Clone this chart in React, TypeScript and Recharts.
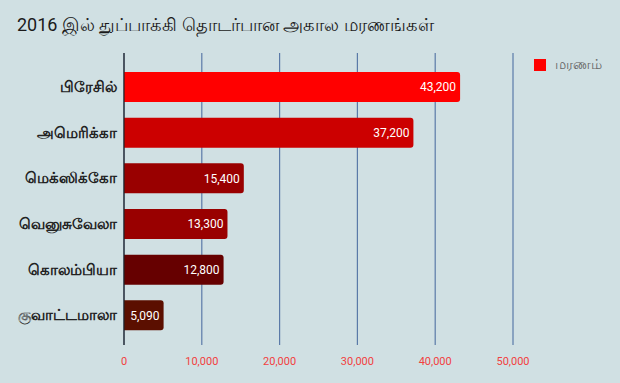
import React from 'react';
import { BarChart, Bar, XAxis, YAxis, CartesianGrid, Cell, LabelList } from 'recharts';

const countries = ['பிரேசில்', 'அமெரிக்கா', 'மெக்ஸிக்கோ', 'வெனுசுவேலா', 'கொலம்பியா', 'குவாட்டமாலா'];
const deaths = [43200, 37200, 15400, 13300, 12800, 5090];
const xTicks = [0, 10000, 20000, 30000, 40000, 50000];
const seriesName = 'மரணம்';
const title = '2016 இல் துப்பாக்கி தொடர்பான அகால மரணங்கள்';

const barColors = ['#ff0000', '#cc0000', '#990000', '#990000', '#660000', '#5b0f00'];

const data = countries.map((c, i) => ({ country: c, value: deaths[i] }));

const FONT = "Roboto, 'Noto Sans', sans-serif";
const fmt = (v: number) => v.toLocaleString('en-US');

export default function App() {
  return (
    <div style={{ position: 'absolute', left: 0, top: 0, width: 620, height: 383, background: '#d0e0e3', fontFamily: FONT }}>
      <div style={{ position: 'absolute', left: 17, top: 14, fontSize: 18, color: '#1a1a1a', whiteSpace: 'nowrap' }}>{title}</div>
      <div style={{ position: 'absolute', left: 534, top: 56, display: 'flex', alignItems: 'center' }}>
        <div style={{ width: 12, height: 12, background: '#ff0000' }} />
        <span style={{ marginLeft: 9, fontSize: 13.5, color: '#666' }}>{seriesName}</span>
      </div>
      <BarChart
        width={620}
        height={383}
        data={data}
        layout="vertical"
        margin={{ top: 53, right: 107, bottom: 8, left: 0 }}
      >
        <CartesianGrid horizontal={false} vertical={true} stroke="#5a7aa8" strokeWidth={1.2} />
        <XAxis
          type="number"
          domain={[0, 50000]}
          ticks={xTicks}
          tickFormatter={fmt}
          axisLine={false}
          tickLine={false}
          height={30}
          tickMargin={6}
          tick={{ fill: '#f24040', fontSize: 11, fontFamily: FONT }}
        />
        <YAxis
          type="category"
          dataKey="country"
          width={124}
          padding={{ top: 11, bottom: 7 }}
          axisLine={{ stroke: '#222', strokeWidth: 1.2 }}
          tickLine={false}
          tickSize={0}
          tickMargin={7}
          tick={{ fill: '#222', fontSize: 15, fontWeight: 'bold', fontFamily: FONT }}
        />
        <Bar dataKey="value" name={seriesName} barSize={30} radius={[0, 3, 3, 0]} isAnimationActive={false}>
          {data.map((d, i) => (
            <Cell key={d.country} fill={barColors[i]} />
          ))}
          <LabelList dataKey="value" position="insideRight" offset={4} formatter={(v: any) => fmt(Number(v))} fill="#ffffff" fontSize={12} fontFamily={FONT} />
        </Bar>
      </BarChart>
    </div>
  );
}
